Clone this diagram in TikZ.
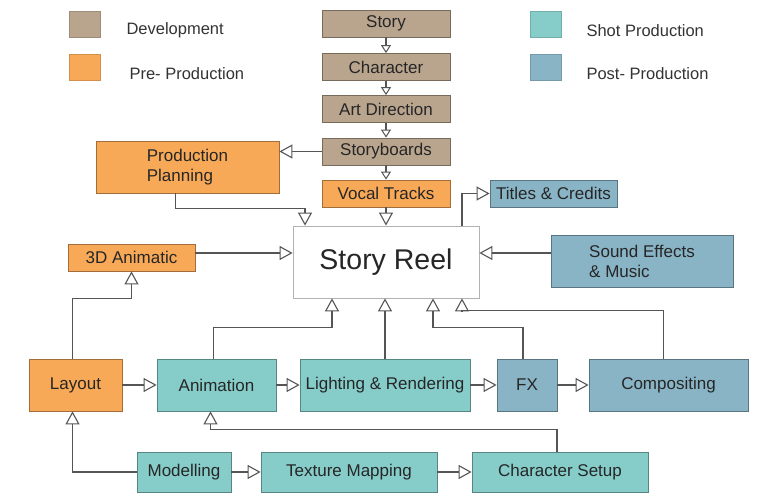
\documentclass[tikz,border=0pt]{standalone}
\usepackage{fontspec}
\setmainfont{Liberation Sans}
\usetikzlibrary{arrows.meta}
\definecolor{dev}{HTML}{B9A58E}
\definecolor{pre}{HTML}{F8A957}
\definecolor{shot}{HTML}{86CDCA}
\definecolor{post}{HTML}{89B4C6}
\definecolor{linea}{HTML}{555555}
\begin{document}
\begin{tikzpicture}[x=1pt, y=-1pt,
    box/.style={draw=#1!65!black, fill=#1, line width=0.8pt, inner sep=2pt,
        text=black!85, font=\fontsize{17}{20}\selectfont},
    swatch/.style={fill=#1, draw=#1!85!black, line width=0.4pt, minimum width=31pt, minimum height=26pt, inner sep=0pt},
    legend/.style={anchor=west, text=black!80, font=\fontsize{16.5}{20}\selectfont},
    arr/.style={-{Triangle[open, length=13pt, width=14pt, line width=1.1pt]}, draw=linea, line width=1.4pt},
    small/.style={-{Triangle[open, length=8pt, width=10pt, line width=1pt]}}]
    \useasboundingbox (0,0) rectangle (766,495);

    % Legenda
    \node[swatch=dev] (sdev) at (84.5,24) {};
    \node[swatch=pre] (spre) at (84.5,67.5) {};
    \node[swatch=shot] (sshot) at (545.5,24.5) {};
    \node[swatch=post] (spost) at (545.5,67.5) {};
    \node[legend] (ldev) at (123,30) {Development};
    \node[legend] (lpre) at (126,74) {Pre- Production};
    \node[legend] (lshot) at (583,31) {Shot Production};
    \node[legend] (lpost) at (583,74) {Post- Production};

    % Development
    \node[box=dev, minimum width=128pt, minimum height=27pt] (story) at (386,23.5) {Story};
    \node[box=dev, minimum width=128pt, minimum height=27pt] (character) at (386,67) {Character};
    \node[box=dev, minimum width=128pt, minimum height=27pt] (artdir) at (386,109) {Art Direction};
    \node[box=dev, minimum width=128pt, minimum height=27pt] (storyboards) at (386,151.5) {Storyboards};

    % Pre-production
    \node[box=pre, minimum width=128pt, minimum height=27pt] (vocal) at (386,193.5) {Vocal Tracks};
    \node[box=pre, minimum width=183pt, minimum height=52pt, align=left] (planning) at (187.5,167) {Production\\Planning};
    \node[box=pre, minimum width=127pt, minimum height=27pt] (animatic) at (131.5,257.5) {3D Animatic};
    \node[box=pre, minimum width=93pt, minimum height=52pt] (layout) at (75.5,385) {Layout};

    % Story Reel
    \node[draw=black!30, fill=white, line width=0.8pt, minimum width=186pt, minimum height=72pt,
        text=black!85, font=\fontsize{28.5}{32}\selectfont] (reel) at (386,262) {Story Reel};

    % Shot production
    \node[box=shot, minimum width=119pt, minimum height=52pt] (animation) at (216.5,385) {Animation};
    \node[box=shot, minimum width=170pt, minimum height=52pt] (lighting) at (385,385) {Lighting \& Rendering};
    \node[box=shot, minimum width=94pt, minimum height=40pt] (modelling) at (184,472) {Modelling};
    \node[box=shot, minimum width=176pt, minimum height=40pt] (texture) at (349,472) {Texture Mapping};
    \node[box=shot, minimum width=176pt, minimum height=40pt] (charsetup) at (560,472) {Character Setup};

    % Post-production
    \node[box=post, minimum width=127pt, minimum height=27pt] (titles) at (553.5,193.5) {Titles \& Credits};
    \node[box=post, minimum width=182pt, minimum height=52pt, align=left] (sound) at (642,261) {Sound Effects\\\& Music};
    \node[box=post, minimum width=60pt, minimum height=52pt] (fx) at (527,385) {FX};
    \node[box=post, minimum width=159pt, minimum height=52pt] (compositing) at (668.5,385) {Compositing};

    % Catena di sviluppo
    \draw[arr, small] (story) -- (character);
    \draw[arr, small] (character) -- (artdir);
    \draw[arr, small] (artdir) -- (storyboards);
    \draw[arr, small] (storyboards) -- (vocal);
    \draw[arr] (storyboards.west) -- (storyboards.west -| planning.east);

    % Verso la Story Reel
    \draw[arr] ([xshift=-12pt]planning.south) -- ++(0,15) -| ([xshift=-81pt]reel.north);
    \draw[arr] (vocal) -- (reel);
    \draw[arr] ([xshift=76pt]reel.north) |- (titles.west);
    \draw[arr] (sound.west |- 0,253) -- (reel.east |- 0,253);
    \draw[arr] (animatic.east |- 0,253) -- (reel.west |- 0,253);
    \draw[arr] ([xshift=-3pt]animation.north) -- ++(0,-31) -| ([xshift=-54pt]reel.south);
    \draw[arr] (lighting.north) -- (lighting.north |- reel.south);
    \draw[arr] ([xshift=-4pt]fx.north) -- ++(0,-31) -| ([xshift=47pt]reel.south);
    \draw[arr] ([xshift=-5pt]compositing.north) -- ++(0,-48) -| ([xshift=76pt]reel.south);

    % Produzione
    \draw[arr] ([xshift=-3pt]layout.north) -- ++(0,-60) -| (animatic.south);
    \draw[arr] (layout) -- (animation);
    \draw[arr] (animation) -- (lighting);
    \draw[arr] (lighting) -- (fx);
    \draw[arr] (fx) -- (compositing);
    \draw[arr] (modelling.west) -| ([xshift=-3pt]layout.south);
    \draw[arr] (modelling) -- (texture);
    \draw[arr] (texture) -- (charsetup);
    \draw[arr] ([xshift=-3pt]charsetup.north) -- ++(0,-22) -| ([xshift=-6pt]animation.south);
\end{tikzpicture}
\end{document}
